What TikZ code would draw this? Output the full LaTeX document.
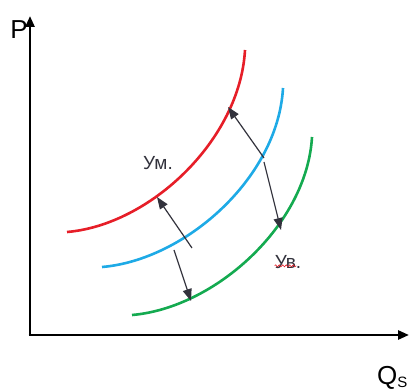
\documentclass[tikz,border=0pt]{standalone}
\usepackage{fontspec}
\setmainfont{Liberation Sans}
\usetikzlibrary{arrows.meta,decorations.pathmorphing}
\definecolor{cred}{RGB}{230,30,40}
\definecolor{cblue}{RGB}{30,170,230}
\definecolor{cgreen}{RGB}{20,170,80}
\definecolor{tgray}{RGB}{50,50,60}
\begin{document}
\begin{tikzpicture}[x=1pt,y=-1pt,
  axis/.style={line width=2.6pt,-{Triangle[length=11pt,width=9pt]}},
  curve/.style={line width=2.6pt},
  movearrow/.style={line width=1.2pt,tgray,-{Triangle[length=12pt,width=9pt]}},
  lbl/.style={font=\fontsize{19}{19}\selectfont,text=tgray,inner sep=0pt}]
\useasboundingbox (0,0) rectangle (418,390);
\coordinate (O) at (30,335);
\coordinate (Ytop) at (30,16);
\coordinate (Xend) at (409,335);
\draw[axis] (O) -- (Ytop);
\draw[axis] ([xshift=-1.3pt]O) -- (Xend);
\node[inner sep=0pt,font=\fontsize{26}{26}\selectfont] (P) at (19,30) {P};
\node[inner sep=0pt,anchor=base west,font=\fontsize{26}{26}\selectfont] (Q) at (377,384) {Q\raisebox{-3pt}{\fontsize{15}{15}\selectfont S}};
% curves
\draw[curve,cred] (67,232) .. controls (150,225) and (240,140) .. (245,50);
\draw[curve,cblue] (102,267) .. controls (185,260) and (278,178) .. (283,88);
\draw[curve,cgreen] (132,315) .. controls (215,308) and (307,225) .. (312,137);
% arrow endpoints
\coordinate (b1) at (192,248);
\coordinate (r1) at (157,197);
\coordinate (b2) at (174,250);
\coordinate (g1) at (191,301);
\coordinate (b3) at (264,158);
\coordinate (r2) at (228,107);
\coordinate (b4) at (264,162);
\coordinate (g2) at (281,230);
\draw[movearrow] (b1) -- (r1);
\draw[movearrow] (b2) -- (g1);
\draw[movearrow] (b3) -- (r2);
\draw[movearrow] (b4) -- (g2);
\node[lbl] (um) at (158,163) {Ум.};
\node[lbl] (uv) at (288,262) {Ув.};
\draw[cred,line width=0.6pt,decorate,decoration={snake,amplitude=1pt,segment length=3.5pt}] ([yshift=3pt]uv.south west) -- ([yshift=3pt,xshift=-5pt]uv.south east);
\end{tikzpicture}
\end{document}
